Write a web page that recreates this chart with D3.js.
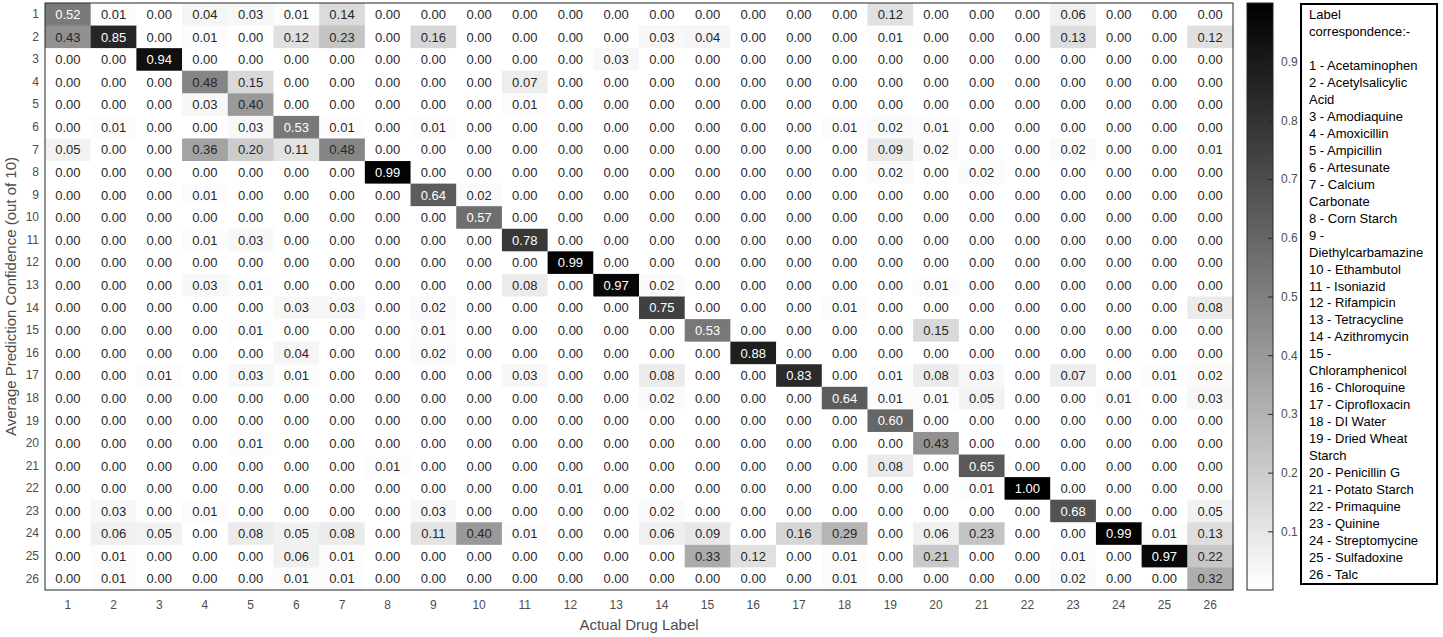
<!DOCTYPE html>
<html>
<head>
<meta charset="utf-8">
<script src="https://cdn.jsdelivr.net/npm/d3@7"></script>
<style>
  html, body { margin: 0; padding: 0; background: #fff; }
  svg { display: block; font-family: "Liberation Sans", Arial, Helvetica, sans-serif; }
</style>
</head>
<body>
<svg id="chart" width="1443" height="637"></svg>
<script>
const rowLabels = d3.range(1, 27).map(String);
const colLabels = d3.range(1, 27).map(String);

const values = [
  [0.52,0.01,0.00,0.04,0.03,0.01,0.14,0.00,0.00,0.00,0.00,0.00,0.00,0.00,0.00,0.00,0.00,0.00,0.12,0.00,0.00,0.00,0.06,0.00,0.00,0.00],
  [0.43,0.85,0.00,0.01,0.00,0.12,0.23,0.00,0.16,0.00,0.00,0.00,0.00,0.03,0.04,0.00,0.00,0.00,0.01,0.00,0.00,0.00,0.13,0.00,0.00,0.12],
  [0.00,0.00,0.94,0.00,0.00,0.00,0.00,0.00,0.00,0.00,0.00,0.00,0.03,0.00,0.00,0.00,0.00,0.00,0.00,0.00,0.00,0.00,0.00,0.00,0.00,0.00],
  [0.00,0.00,0.00,0.48,0.15,0.00,0.00,0.00,0.00,0.00,0.07,0.00,0.00,0.00,0.00,0.00,0.00,0.00,0.00,0.00,0.00,0.00,0.00,0.00,0.00,0.00],
  [0.00,0.00,0.00,0.03,0.40,0.00,0.00,0.00,0.00,0.00,0.01,0.00,0.00,0.00,0.00,0.00,0.00,0.00,0.00,0.00,0.00,0.00,0.00,0.00,0.00,0.00],
  [0.00,0.01,0.00,0.00,0.03,0.53,0.01,0.00,0.01,0.00,0.00,0.00,0.00,0.00,0.00,0.00,0.00,0.01,0.02,0.01,0.00,0.00,0.00,0.00,0.00,0.00],
  [0.05,0.00,0.00,0.36,0.20,0.11,0.48,0.00,0.00,0.00,0.00,0.00,0.00,0.00,0.00,0.00,0.00,0.00,0.09,0.02,0.00,0.00,0.02,0.00,0.00,0.01],
  [0.00,0.00,0.00,0.00,0.00,0.00,0.00,0.99,0.00,0.00,0.00,0.00,0.00,0.00,0.00,0.00,0.00,0.00,0.02,0.00,0.02,0.00,0.00,0.00,0.00,0.00],
  [0.00,0.00,0.00,0.01,0.00,0.00,0.00,0.00,0.64,0.02,0.00,0.00,0.00,0.00,0.00,0.00,0.00,0.00,0.00,0.00,0.00,0.00,0.00,0.00,0.00,0.00],
  [0.00,0.00,0.00,0.00,0.00,0.00,0.00,0.00,0.00,0.57,0.00,0.00,0.00,0.00,0.00,0.00,0.00,0.00,0.00,0.00,0.00,0.00,0.00,0.00,0.00,0.00],
  [0.00,0.00,0.00,0.01,0.03,0.00,0.00,0.00,0.00,0.00,0.78,0.00,0.00,0.00,0.00,0.00,0.00,0.00,0.00,0.00,0.00,0.00,0.00,0.00,0.00,0.00],
  [0.00,0.00,0.00,0.00,0.00,0.00,0.00,0.00,0.00,0.00,0.00,0.99,0.00,0.00,0.00,0.00,0.00,0.00,0.00,0.00,0.00,0.00,0.00,0.00,0.00,0.00],
  [0.00,0.00,0.00,0.03,0.01,0.00,0.00,0.00,0.00,0.00,0.08,0.00,0.97,0.02,0.00,0.00,0.00,0.00,0.00,0.01,0.00,0.00,0.00,0.00,0.00,0.00],
  [0.00,0.00,0.00,0.00,0.00,0.03,0.03,0.00,0.02,0.00,0.00,0.00,0.00,0.75,0.00,0.00,0.00,0.01,0.00,0.00,0.00,0.00,0.00,0.00,0.00,0.08],
  [0.00,0.00,0.00,0.00,0.01,0.00,0.00,0.00,0.01,0.00,0.00,0.00,0.00,0.00,0.53,0.00,0.00,0.00,0.00,0.15,0.00,0.00,0.00,0.00,0.00,0.00],
  [0.00,0.00,0.00,0.00,0.00,0.04,0.00,0.00,0.02,0.00,0.00,0.00,0.00,0.00,0.00,0.88,0.00,0.00,0.00,0.00,0.00,0.00,0.00,0.00,0.00,0.00],
  [0.00,0.00,0.01,0.00,0.03,0.01,0.00,0.00,0.00,0.00,0.03,0.00,0.00,0.08,0.00,0.00,0.83,0.00,0.01,0.08,0.03,0.00,0.07,0.00,0.01,0.02],
  [0.00,0.00,0.00,0.00,0.00,0.00,0.00,0.00,0.00,0.00,0.00,0.00,0.00,0.02,0.00,0.00,0.00,0.64,0.01,0.01,0.05,0.00,0.00,0.01,0.00,0.03],
  [0.00,0.00,0.00,0.00,0.00,0.00,0.00,0.00,0.00,0.00,0.00,0.00,0.00,0.00,0.00,0.00,0.00,0.00,0.60,0.00,0.00,0.00,0.00,0.00,0.00,0.00],
  [0.00,0.00,0.00,0.00,0.01,0.00,0.00,0.00,0.00,0.00,0.00,0.00,0.00,0.00,0.00,0.00,0.00,0.00,0.00,0.43,0.00,0.00,0.00,0.00,0.00,0.00],
  [0.00,0.00,0.00,0.00,0.00,0.00,0.00,0.01,0.00,0.00,0.00,0.00,0.00,0.00,0.00,0.00,0.00,0.00,0.08,0.00,0.65,0.00,0.00,0.00,0.00,0.00],
  [0.00,0.00,0.00,0.00,0.00,0.00,0.00,0.00,0.00,0.00,0.00,0.01,0.00,0.00,0.00,0.00,0.00,0.00,0.00,0.00,0.01,1.00,0.00,0.00,0.00,0.00],
  [0.00,0.03,0.00,0.01,0.00,0.00,0.00,0.00,0.03,0.00,0.00,0.00,0.00,0.02,0.00,0.00,0.00,0.00,0.00,0.00,0.00,0.00,0.68,0.00,0.00,0.05],
  [0.00,0.06,0.05,0.00,0.08,0.05,0.08,0.00,0.11,0.40,0.01,0.00,0.00,0.06,0.09,0.00,0.16,0.29,0.00,0.06,0.23,0.00,0.00,0.99,0.01,0.13],
  [0.00,0.01,0.00,0.00,0.00,0.06,0.01,0.00,0.00,0.00,0.00,0.00,0.00,0.00,0.33,0.12,0.00,0.01,0.00,0.21,0.00,0.00,0.01,0.00,0.97,0.22],
  [0.00,0.01,0.00,0.00,0.00,0.01,0.01,0.00,0.00,0.00,0.00,0.00,0.00,0.00,0.00,0.00,0.00,0.01,0.00,0.00,0.00,0.00,0.02,0.00,0.00,0.32]
];

const colorbarTicks = [0.1, 0.2, 0.3, 0.4, 0.5, 0.6, 0.7, 0.8, 0.9];

const legendLines = [
  "Label", "correspondence:-", "",
  "1 - Acetaminophen", "2 - Acetylsalicylic", "Acid", "3 - Amodiaquine",
  "4 - Amoxicillin", "5 - Ampicillin", "6 - Artesunate", "7 - Calcium",
  "Carbonate", "8 - Corn Starch", "9 -", "Diethylcarbamazine",
  "10 - Ethambutol", "11 - Isoniazid", "12 - Rifampicin", "13 - Tetracycline",
  "14 - Azithromycin", "15 -", "Chloramphenicol", "16 - Chloroquine",
  "17 - Ciprofloxacin", "18 - DI Water", "19 - Dried Wheat", "Starch",
  "20 - Penicillin G", "21 - Potato Starch", "22 - Primaquine", "23 - Quinine",
  "24 - Streptomycine", "25 - Sulfadoxine", "26 - Talc"
];

const xTitle = "Actual Drug Label";
const yTitle = "Average Prediction Confidence (out of 10)";

const svg = d3.select("#chart");
const plot = { left: 45, right: 1233, top: 3, bottom: 590 };

const x = d3.scaleBand().domain(colLabels).range([plot.left, plot.right]);
const y = d3.scaleBand().domain(rowLabels).range([plot.top, plot.bottom]);
const color = d3.scaleLinear().domain([0, 1]).range(["#ffffff", "#000000"]).clamp(true);

const cells = [];
values.forEach((row, i) => row.forEach((v, j) => cells.push({ r: rowLabels[i], c: colLabels[j], v })));

svg.append("g").selectAll("rect").data(cells).join("rect")
  .attr("x", d => x(d.c)).attr("y", d => y(d.r))
  .attr("width", x.bandwidth() + 0.5).attr("height", y.bandwidth() + 0.5)
  .attr("fill", d => color(d.v));

svg.append("g").selectAll("text").data(cells).join("text")
  .attr("x", d => x(d.c) + x.bandwidth() / 2)
  .attr("y", d => y(d.r) + y.bandwidth() / 2)
  .attr("dy", "0.36em")
  .attr("text-anchor", "middle")
  .attr("font-size", 13)
  .attr("fill", d => d.v > 0.5 ? "#ffffff" : "#262626")
  .text(d => d.v.toFixed(2));

// frame
svg.append("rect")
  .attr("x", plot.left).attr("y", plot.top)
  .attr("width", plot.right - plot.left).attr("height", plot.bottom - plot.top)
  .attr("fill", "none").attr("stroke", "#262626").attr("stroke-width", 1);

// axes
const xAxis = svg.append("g").attr("transform", `translate(0,${plot.bottom})`)
  .call(d3.axisBottom(x).tickSize(0).tickPadding(10));
const yAxis = svg.append("g").attr("transform", `translate(${plot.left},0)`)
  .call(d3.axisLeft(y).tickSize(0).tickPadding(6));
[xAxis, yAxis].forEach(a => {
  a.select(".domain").remove();
  a.selectAll("text").attr("font-size", 12).attr("fill", "#4d4d4d")
    .attr("font-family", "'Liberation Sans', Arial, sans-serif");
});

svg.append("text")
  .attr("x", (plot.left + plot.right) / 2).attr("y", 630)
  .attr("text-anchor", "middle").attr("font-size", 15).attr("fill", "#4d4d4d")
  .text(xTitle);

svg.append("text")
  .attr("transform", `translate(16,${(plot.top + plot.bottom) / 2}) rotate(-90)`)
  .attr("text-anchor", "middle").attr("font-size", 15).attr("fill", "#4d4d4d")
  .text(yTitle);

// colorbar
const cb = { x: 1247, w: 26 };
const cbScale = d3.scaleLinear().domain([0, 1]).range([plot.bottom, plot.top]);
const defs = svg.append("defs");
const grad = defs.append("linearGradient").attr("id", "cbgrad")
  .attr("x1", 0).attr("y1", 1).attr("x2", 0).attr("y2", 0);
d3.range(0, 1.0001, 0.1).forEach(t => grad.append("stop").attr("offset", t).attr("stop-color", color(t)));
svg.append("rect").attr("x", cb.x).attr("y", cbScale(1))
  .attr("width", cb.w).attr("height", cbScale(0) - cbScale(1))
  .attr("fill", "url(#cbgrad)").attr("stroke", "#262626").attr("stroke-width", 1);
const cbAxis = svg.append("g").attr("transform", `translate(${cb.x + cb.w},0)`)
  .call(d3.axisRight(cbScale).tickValues(colorbarTicks).tickFormat(d3.format(".1f")).tickSizeInner(-5).tickSizeOuter(0).tickPadding(8));
cbAxis.select(".domain").remove();
cbAxis.selectAll("line").attr("stroke", "#262626");
cbAxis.selectAll("text").attr("font-size", 12).attr("fill", "#4d4d4d")
  .attr("font-family", "'Liberation Sans', Arial, sans-serif");

// legend box
const lg = { x: 1301, y: 4, w: 136, h: 580 };
svg.append("rect").attr("x", lg.x).attr("y", lg.y).attr("width", lg.w).attr("height", lg.h)
  .attr("fill", "#fff").attr("stroke", "#000").attr("stroke-width", 2);
const lineY = d3.scaleLinear().domain([0, legendLines.length - 1]).range([19, 579]);
svg.append("g").selectAll("text").data(legendLines).join("text")
  .attr("x", lg.x + 8).attr("y", (d, i) => lineY(i))
  .attr("font-size", 13).attr("fill", "#000")
  .text(d => d);
</script>
</body>
</html>
